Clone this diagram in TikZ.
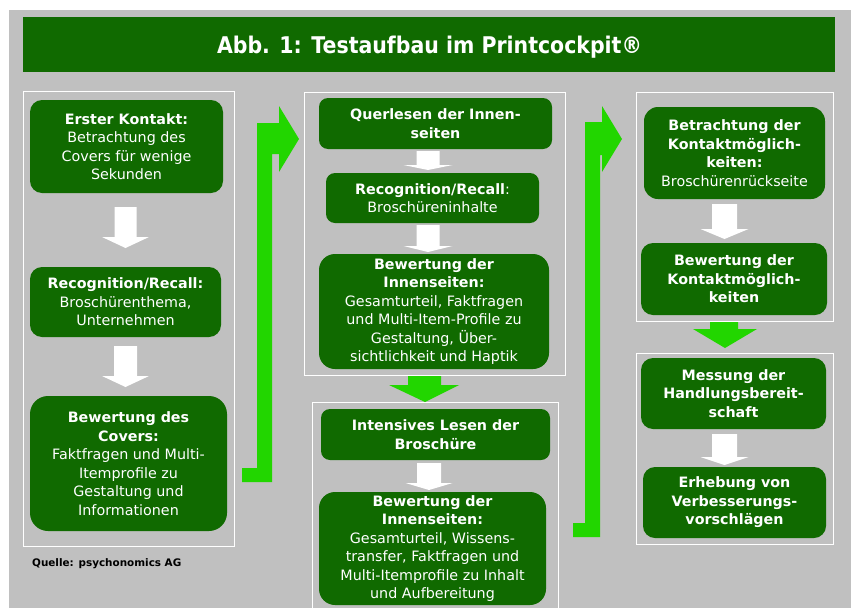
\documentclass[tikz,border=0pt]{standalone}
\usepackage{fontspec}
\setmainfont{DejaVu Sans}
\usepackage{graphicx}
\definecolor{bggray}{RGB}{192,192,192}
\definecolor{dgreen}{RGB}{16,106,0}
\definecolor{lgreen}{RGB}{34,214,0}
\tikzset{
  gbox/.style={fill=dgreen, rounded corners=12pt, text=white, align=center, inner sep=0pt,
    font=\fontsize{14.3}{18.5}\selectfont},
  panel/.style={draw=white, line width=0.9pt},
  whitearrow/.style={fill=white},
  greenarrow/.style={fill=lgreen},
}
% down block arrow: x centre, shaft half width, head half width, y top, y head start, y tip
\newcommand\wdown[6]{%
  \fill[whitearrow] (#1-#2,#4) -- (#1+#2,#4) -- (#1+#2,#5) -- (#1+#3,#5) -- (#1,#6)
    -- (#1-#3,#5) -- (#1-#2,#5) -- cycle;}
\begin{document}
\begin{tikzpicture}[x=1pt,y=-1pt]
\useasboundingbox (0,0) rectangle (852,608);
\fill[bggray] (9,10) rectangle (851,608);
% title
\fill[dgreen] (23,17) rectangle (835,72);
\node[anchor=base, text=white, inner sep=0pt] (title) at (429.5,53)
  {\resizebox{425pt}{\height}{\fontsize{23}{23}\selectfont\bfseries Abb. 1: Testaufbau im Printcockpit®}};
% panels
\draw[panel] (23,91) rectangle (234,546);
\draw[panel] (304,92) rectangle (565,375);
\draw[panel] (312,612) -- (312,402) -- (558,402) -- (558,612);
\draw[panel] (636,92) rectangle (833,321);
\draw[panel] (636,353) rectangle (833,544);
% left column
\node[gbox, minimum width=193pt, minimum height=93pt] (lk1) at (126.5,146.5)
  {\textbf{Erster Kontakt:}\\Betrachtung des\\Covers für wenige\\Sekunden};
\node[gbox, minimum width=191pt, minimum height=70pt] (lk2) at (125.5,302)
  {\textbf{Recognition/Recall:}\\Broschürenthema,\\Unternehmen};
\node[gbox, minimum width=197pt, minimum height=135pt, rounded corners=18pt] (lk3) at (128.5,463.5)
  {\textbf{Bewertung des}\\\textbf{Covers:}\\Faktfragen und Multi-\\Itemprofile zu\\Gestaltung und\\Informationen};
% middle column
\node[gbox, minimum width=233pt, minimum height=51pt, rounded corners=9pt] (m1) at (435.5,123.5)
  {\textbf{Querlesen der Innen-}\\\textbf{seiten}};
\node[gbox, minimum width=213pt, minimum height=50pt, rounded corners=9pt] (m2) at (432.5,198)
  {\textbf{Recognition/Recall}:\\Broschüreninhalte};
\node[gbox, minimum width=230pt, minimum height=115pt, rounded corners=16pt] (m3) at (434,311.5)
  {\textbf{Bewertung der}\\\textbf{Innenseiten:}\\Gesamturteil, Faktfragen\\und Multi-Item-Profile zu\\Gestaltung, Über-\\sichtlichkeit und Haptik};
\node[gbox, minimum width=229pt, minimum height=51pt, rounded corners=9pt] (m4) at (435.5,434.5)
  {\textbf{Intensives Lesen der}\\\textbf{Broschüre}};
\node[gbox, minimum width=227pt, minimum height=113pt, rounded corners=16pt] (m5) at (432.5,548.5)
  {\textbf{Bewertung der}\\\textbf{Innenseiten:}\\Gesamturteil, Wissens-\\transfer, Faktfragen und\\Multi-Itemprofile zu Inhalt\\und Aufbereitung};
% right column
\node[gbox, minimum width=181pt, minimum height=92pt, rounded corners=14pt] (r1) at (734.5,153)
  {\textbf{Betrachtung der}\\\textbf{Kontaktmöglich-}\\\textbf{keiten:}\\Broschürenrückseite};
\node[gbox, minimum width=186pt, minimum height=72pt] (r2) at (734,279)
  {\textbf{Bewertung der}\\\textbf{Kontaktmöglich-}\\\textbf{keiten}};
\node[gbox, minimum width=185pt, minimum height=71pt] (r3) at (733.5,393.5)
  {\textbf{Messung der}\\\textbf{Handlungsbereit-}\\\textbf{schaft}};
\node[gbox, minimum width=183pt, minimum height=71pt] (r4) at (734.5,502.5)
  {\textbf{Erhebung von}\\\textbf{Verbesserungs-}\\\textbf{vorschlägen}};
% white arrows
\wdown{125.5}{11}{23.5}{207}{237}{248}
\wdown{125.5}{11.5}{23.5}{346}{376}{387}
\wdown{428}{11.5}{24.5}{151}{165}{170}
\wdown{428}{11.5}{24.5}{225}{246}{252}
\wdown{429}{12}{23.5}{463}{483}{490}
\wdown{724.5}{12.5}{24}{204}{229}{239}
\wdown{724.5}{12.5}{24}{434}{457}{465}
% green arrows
\fill[greenarrow] (242,468) -- (257,468) -- (257,123) -- (279,123) -- (279,106) -- (299,139)
  -- (279,172) -- (279,154) -- (272,154) -- (272,482) -- (242,482) -- cycle;
\fill[greenarrow] (573,523) -- (585,523) -- (585,122) -- (602,122) -- (602,106) -- (622,139)
  -- (602,172) -- (602,155) -- (600,155) -- (600,537) -- (573,537) -- cycle;
\fill[greenarrow] (408,376) -- (441,376) -- (441,385) -- (459,385) -- (425,402) -- (389,385)
  -- (408,385) -- cycle;
\fill[greenarrow] (710,322) -- (738,322) -- (738,329) -- (757,329) -- (725,348) -- (693,329)
  -- (710,329) -- cycle;
% source
\node[anchor=base west, inner sep=0pt, font=\fontsize{10.4}{12}\selectfont\bfseries] (src) at (32,566)
  {Quelle: psychonomics AG};
\end{tikzpicture}
\end{document}
